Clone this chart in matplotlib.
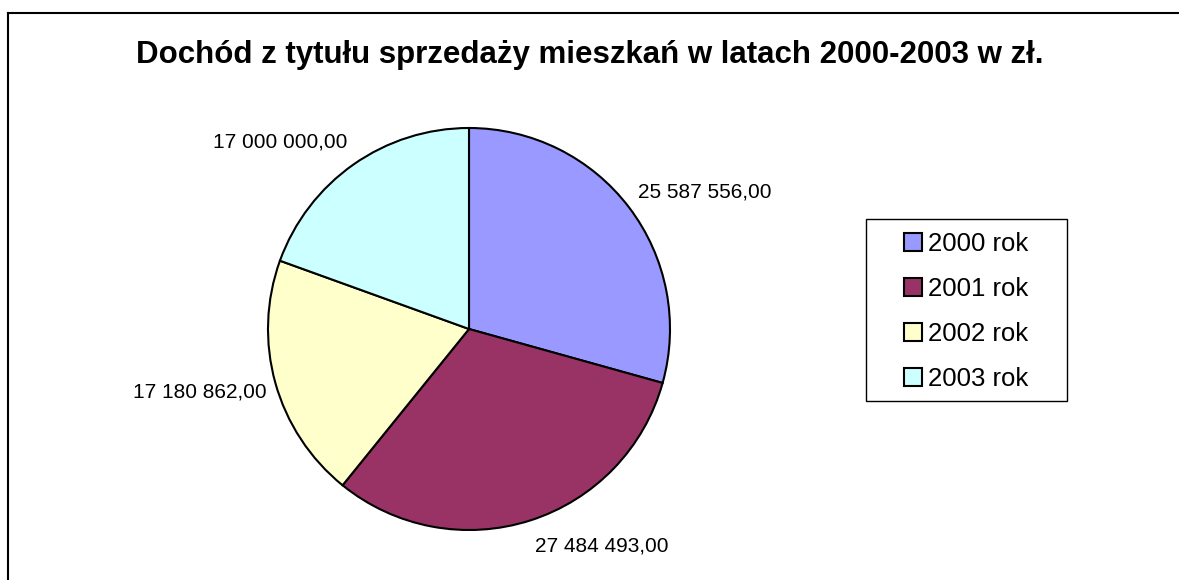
import matplotlib
matplotlib.use("Agg")
import matplotlib.pyplot as plt
from matplotlib.lines import Line2D
from matplotlib.patches import Rectangle

# dane z wykresu
years = ["2000 rok", "2001 rok", "2002 rok", "2003 rok"]
income = [25587556.00, 27484493.00, 17180862.00, 17000000.00]
colors = ["#9999FF", "#993366", "#FFFFCC", "#CCFFFF"]

W, H = 1179, 580
plt.rcParams['font.family'] = ['Liberation Sans', 'DejaVu Sans']

fig = plt.figure(figsize=(W / 100, H / 100), dpi=100)
ax = fig.add_axes([0, 0, 1, 1])
ax.set_aspect('equal')
ax.axis('off')

# pie in pixel space (y measured from bottom)
wedges, _ = ax.pie(income, colors=colors, startangle=90, counterclock=False,
                   center=(469, H - 329), radius=201,
                   wedgeprops=dict(edgecolor='black', linewidth=1.5))
ax.set_xlim(0, W)
ax.set_ylim(0, H)


def fmt(v):
    return f"{v:,.2f}".replace(",", " ").replace(".", ",")


# label positions (x centre, baseline) in pixels from top-left
label_pos = [(705, 198), (602, 552), (200, 398), (280, 148)]
for v, (x, y) in zip(income, label_pos):
    ax.text(x, H - y, fmt(v), ha='center', va='baseline', fontsize=15)

ax.text(590, H - 63, "Dochód z tytułu sprzedaży mieszkań w latach 2000-2003 w zł.",
        ha='center', va='baseline', fontsize=22.5, fontweight='bold')

# legend box drawn by hand, legend itself without frame
ax.add_patch(Rectangle((866, H - 401), 1067 - 866, 401 - 219, facecolor='white',
                       edgecolor='black', linewidth=1.0, zorder=3))
leg = ax.legend(wedges, years, loc='upper left',
                bbox_to_anchor=(904 / W, 1 - 232 / H), bbox_transform=fig.transFigure,
                borderaxespad=0, borderpad=0, fontsize=18.5, frameon=False,
                handlelength=0.7, handleheight=0.7,
                handletextpad=0.25, labelspacing=0.82)
leg.set_zorder(4)
for h in leg.legend_handles:
    h.set_linewidth(1.5)
    h.set_edgecolor('black')

# chart area border (only top and left visible)
fig.add_artist(Line2D([8 / W, 1], [1 - 13 / H, 1 - 13 / H], color='black', linewidth=1.5,
                      transform=fig.transFigure))
fig.add_artist(Line2D([8 / W, 8 / W], [0, 1 - 13 / H], color='black', linewidth=1.5,
                      transform=fig.transFigure))

fig.savefig("out.png", dpi=100, facecolor='white')
